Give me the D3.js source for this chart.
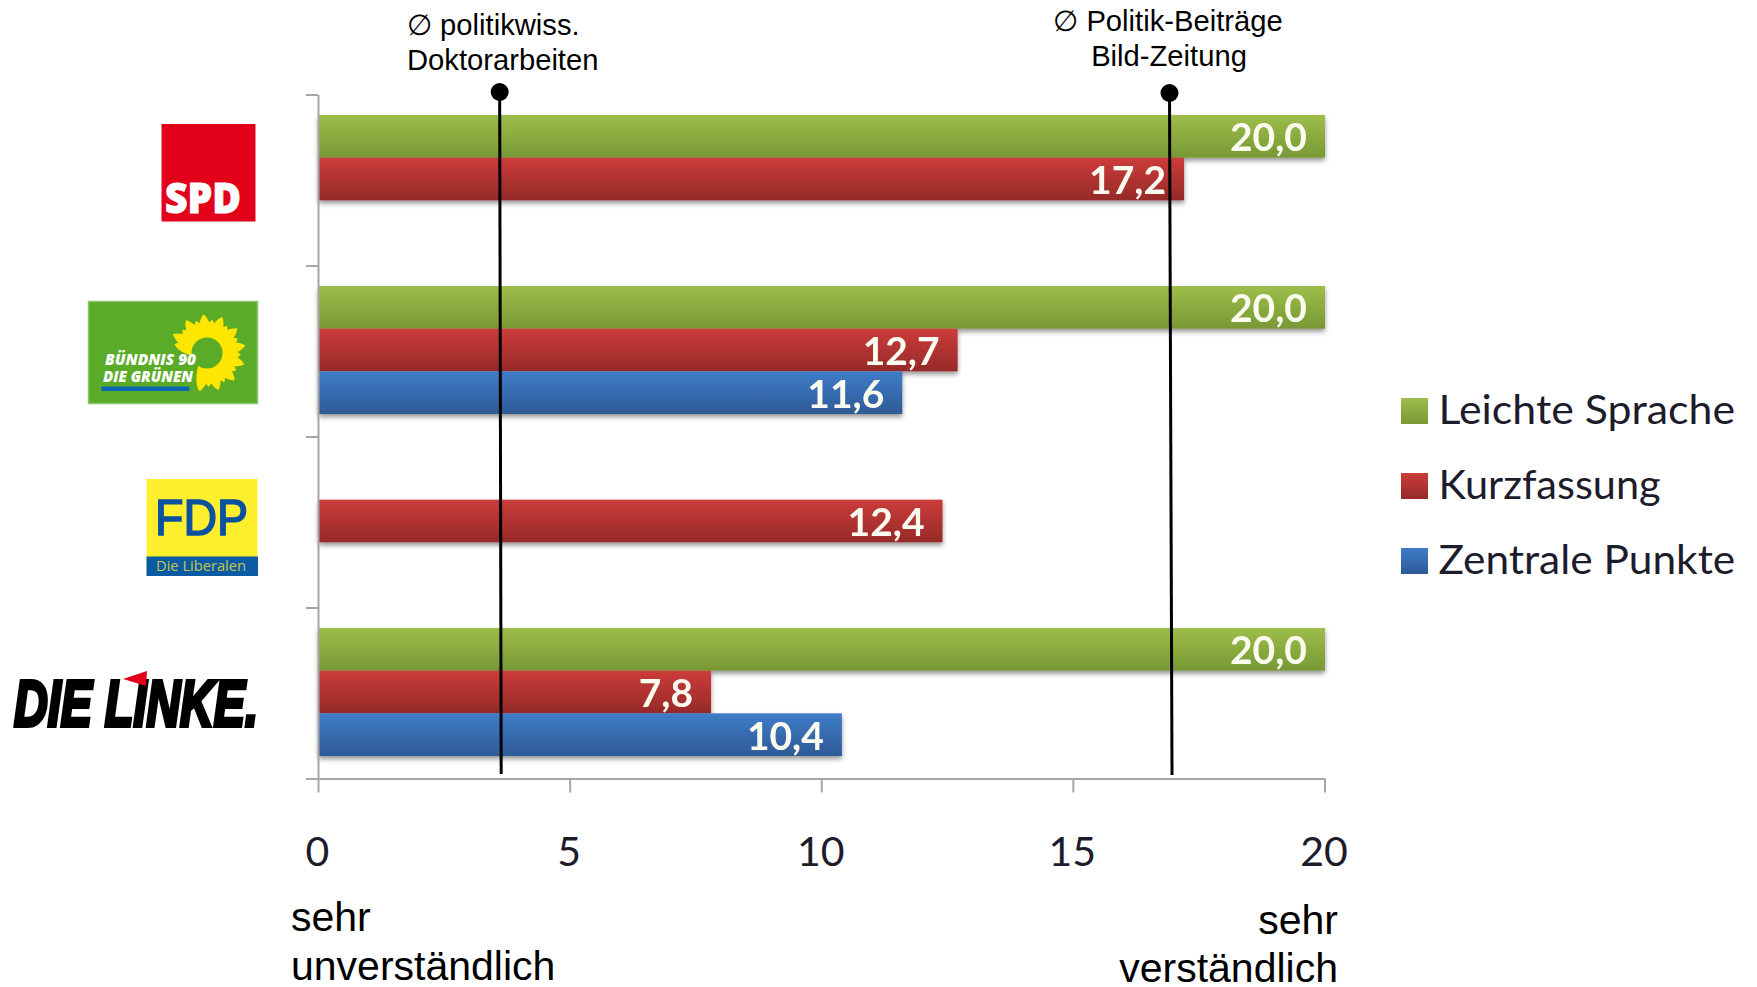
<!DOCTYPE html>
<html lang="de">
<head>
<meta charset="utf-8">
<script src="https://cdn.jsdelivr.net/npm/d3@7"></script>
<style>
html,body{margin:0;padding:0;background:#fff;}
svg{display:block;}
</style>
</head>
<body>
<svg id="c" width="1757" height="987"></svg>
<script>
const parties = ["SPD", "GRUENE", "FDP", "LINKE"];
const seriesNames = ["Leichte Sprache", "Kurzfassung", "Zentrale Punkte"];
const leichteSprache = [20.0, 20.0, null, 20.0];
const kurzfassung = [17.2, 12.7, 12.4, 7.8];
const zentralePunkte = [null, 11.6, null, 10.4];
const xTicks = [0, 5, 10, 15, 20];
const refDoktor = [3.6, 3.63];
const refBild = [16.91, 16.96];

const seriesValues = [leichteSprache, kurzfassung, zentralePunkte];
const topColors = ["#9dbe4a", "#cc3c3a", "#3f7cc8"];
const botColors = ["#789835", "#952a28", "#2e5a96"];
const legendStretch = [1.045, 1.012, 1.035];
const fmt = v => v.toFixed(1).replace(".", ",");

const svg = d3.select("#c");
const defs = svg.append("defs");
seriesNames.forEach((s, i) => {
  const g = defs.append("linearGradient").attr("id", "g" + i)
    .attr("x1", 0).attr("x2", 0).attr("y1", 0).attr("y2", 1);
  g.append("stop").attr("offset", "0%").attr("stop-color", topColors[i]);
  g.append("stop").attr("offset", "100%").attr("stop-color", botColors[i]);
});
const f = defs.append("filter").attr("id", "sh")
  .attr("x", "-2%").attr("y", "-30%").attr("width", "104%").attr("height", "170%");
f.append("feDropShadow").attr("dx", 0).attr("dy", 3).attr("stdDeviation", 2.5)
  .attr("flood-color", "#000").attr("flood-opacity", .42);
const glow = defs.append("filter").attr("id", "glow")
  .attr("x", "-10%").attr("y", "-10%").attr("width", "120%").attr("height", "120%");
glow.append("feGaussianBlur").attr("stdDeviation", .55);

const x = d3.scaleLinear().domain([0, 20]).range([318.5, 1325]);
const yBand = d3.scaleBand().domain(parties).range([94.5, 778.5]);
const slot = d3.scaleBand().domain(seriesNames).range([20.5, 148.5]);
const yEdge = d3.scaleLinear().domain([0, 4]).range([94.5, 778.5]);

/* bars */
const bars = [];
seriesNames.forEach((s, si) => parties.forEach((p, pi) => {
  const v = seriesValues[si][pi];
  if (v !== null) bars.push({ s, si, p, v });
}));
const barG = svg.append("g");
barG.selectAll("rect").data(bars).join("rect")
  .attr("x", x(0))
  .attr("y", d => yBand(d.p) + slot(d.s))
  .attr("width", d => x(d.v) - x(0))
  .attr("height", slot.bandwidth())
  .attr("fill", d => `url(#g${d.si})`)
  .attr("filter", "url(#sh)");

barG.selectAll("text").data(bars).join("text")
  .attr("x", d => x(d.v) - 18)
  .attr("y", d => yBand(d.p) + slot(d.s) + slot.bandwidth() / 2 + 15)
  .attr("text-anchor", "end")
  .attr("font-family", "Lato, sans-serif")
  .attr("font-weight", 700)
  .attr("font-size", 39)
  .attr("fill", "#fbfbf0")
  .attr("filter", "url(#glow)")
  .text(d => fmt(d.v));

/* axes */
const axisStyle = g => {
  g.selectAll(".domain,line").attr("stroke", "#a6a6a6").attr("stroke-width", 2);
};
svg.append("g").attr("transform", "translate(318,0)")
  .call(d3.axisLeft(yEdge).tickValues([0, 1, 2, 3, 4]).tickFormat("").tickSize(12).tickSizeOuter(0))
  .call(axisStyle);
svg.append("g").attr("transform", "translate(-0.5,778.5)")
  .call(d3.axisBottom(x).tickValues(xTicks).tickSize(14).tickSizeOuter(0).tickPadding(44).tickFormat(d => d))
  .call(axisStyle)
  .call(g => g.selectAll("text")
    .attr("font-family", "Lato, sans-serif")
    .attr("font-size", 41)
    .attr("dx", -1)
    .attr("fill", "#1c1c2c"));

/* reference lines */
const refs = [
  { v: refDoktor, top: 92, bottom: 774 },
  { v: refBild, top: 93, bottom: 775 }
];
const refG = svg.append("g");
refG.selectAll("line").data(refs).join("line")
  .attr("x1", d => x(d.v[0])).attr("x2", d => x(d.v[1]))
  .attr("y1", d => d.top).attr("y2", d => d.bottom)
  .attr("stroke", "#000").attr("stroke-width", 3);
refG.selectAll("circle").data(refs).join("circle")
  .attr("cx", d => x(d.v[0])).attr("cy", d => d.top).attr("r", 9).attr("fill", "#000");

/* annotation texts */
const arial = "'Liberation Sans', Arial, sans-serif";
const notes = [
  { t: "\u2205 politikwiss.", x: 407, y: 35, a: "start", s: 29.2 },
  { t: "Doktorarbeiten", x: 407, y: 70, a: "start", s: 29.2 },
  { t: "\u2205 Politik-Beiträge", x: 1168, y: 31, a: "middle", s: 29.2 },
  { t: "Bild-Zeitung", x: 1169, y: 66, a: "middle", s: 29.2 },
  { t: "sehr", x: 291, y: 931, a: "start", s: 41 },
  { t: "unverständlich", x: 291, y: 980, a: "start", s: 41 },
  { t: "sehr", x: 1338, y: 934, a: "end", s: 41 },
  { t: "verständlich", x: 1338, y: 982, a: "end", s: 41 }
];
svg.append("g").selectAll("text").data(notes).join("text")
  .attr("x", d => d.x).attr("y", d => d.y)
  .attr("text-anchor", d => d.a)
  .attr("font-family", arial).attr("font-size", d => d.s)
  .attr("fill", "#000").text(d => d.t);

/* legend */
const legendY = d3.scalePoint().domain(seriesNames).range([411, 561]);
const leg = svg.append("g").selectAll("g").data(seriesNames).join("g")
  .attr("transform", d => `translate(0,${legendY(d)})`);
leg.append("rect").attr("x", 1401).attr("y", -13).attr("width", 27).attr("height", 26)
  .attr("fill", (d, i) => `url(#g${i})`);
leg.append("text").attr("transform", (d, i) => `translate(1438.5,13) scale(${legendStretch[i]},1)`)
  .attr("font-family", "Lato, sans-serif").attr("font-size", 41)
  .attr("fill", "#1c1c2c").text(d => d);

/* party logos */
const logos = svg.append("g");
// SPD
logos.append("rect").attr("x", 161.5).attr("y", 124).attr("width", 94).attr("height", 97.5).attr("fill", "#e2001a");
logos.append("text").attr("x", 165).attr("y", 213).attr("textLength", 76).attr("lengthAdjust", "spacingAndGlyphs")
  .attr("font-family", "'Open Sans', sans-serif").attr("font-weight", 800).attr("font-size", 42)
  .attr("fill", "#fff").attr("stroke", "#fff").attr("stroke-width", 1).text("SPD");
// Grüne
logos.append("rect").attr("x", 88.5).attr("y", 301.5).attr("width", 169).attr("height", 102)
  .attr("fill", "#5aab27").attr("stroke", "#8cc572").attr("stroke-width", 1.5);
const cx = 207, cy = 353;
const angles = d3.range(-165, 112, 14);
logos.append("g").selectAll("path").data(angles).join("path")
  .attr("d", (d, i) => { const L = i % 2 ? 39 : 34; return `M10,-6 Q${L-8},-8 ${L},0 Q${L-8},8 10,6Z`; })
  .attr("transform", d => `translate(${cx},${cy}) rotate(${d})`)
  .attr("fill", "#ffe600");
logos.append("circle").attr("cx", cx).attr("cy", cy).attr("r", 15.5).attr("fill", "#5aab27");
const gr = [{ t: "BÜNDNIS 90", x: 105, y: 365, w: 91 }, { t: "DIE GRÜNEN", x: 103, y: 382, w: 90 }];
logos.append("g").selectAll("text").data(gr).join("text")
  .attr("x", d => d.x).attr("y", d => d.y).attr("textLength", d => d.w)
  .attr("lengthAdjust", "spacingAndGlyphs")
  .attr("font-family", "'Open Sans', sans-serif").attr("font-weight", 800).attr("font-style", "italic")
  .attr("font-size", 15).attr("fill", "#fff").text(d => d.t);
logos.append("rect").attr("x", 101.5).attr("y", 386.5).attr("width", 88).attr("height", 4.5).attr("fill", "#0a68b0");
// FDP
logos.append("rect").attr("x", 146.5).attr("y", 479).attr("width", 111).attr("height", 78).attr("fill", "#fdee2e");
logos.append("rect").attr("x", 146.5).attr("y", 556.5).attr("width", 111.5).attr("height", 19.5).attr("fill", "#0a5aa4");
logos.append("text").attr("x", 155).attr("y", 535).attr("textLength", 93).attr("lengthAdjust", "spacingAndGlyphs")
  .attr("font-family", arial).attr("font-size", 50).attr("fill", "#0a52a0").attr("stroke", "#0a52a0").attr("stroke-width", 1.6).text("FDP");
logos.append("text").attr("x", 156).attr("y", 571).attr("textLength", 90).attr("lengthAdjust", "spacingAndGlyphs")
  .attr("font-family", "'Open Sans', sans-serif").attr("font-size", 14).attr("fill", "#c5c84a").text("Die Liberalen");
// Die Linke
logos.append("text").attr("x", 14).attr("y", 726).attr("textLength", 244).attr("lengthAdjust", "spacingAndGlyphs")
  .attr("font-family", arial).attr("font-weight", 700).attr("font-style", "italic").attr("font-size", 64)
  .attr("fill", "#000").attr("stroke", "#000").attr("stroke-width", 4).text("DIE LINKE.");
logos.append("path").attr("d", d3.line()([[123, 679], [147, 671], [146, 686]]) + "Z").attr("fill", "#e2001a");
</script>
</body>
</html>
